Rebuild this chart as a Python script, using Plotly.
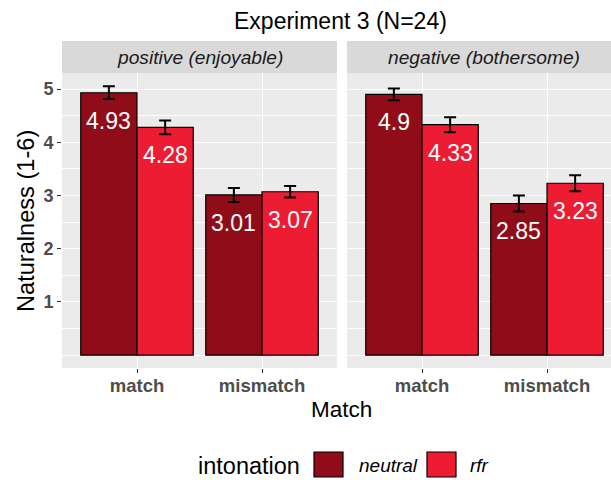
import plotly.graph_objects as go

# ---- data ----
categories = ["match", "mismatch"]
facets = ["positive (enjoyable)", "negative (bothersome)"]
series_names = ["neutral", "rfr"]
neutral_pos = [4.93, 3.01]
rfr_pos = [4.28, 3.07]
neutral_neg = [4.9, 2.85]
rfr_neg = [4.33, 3.23]
neutral_pos_se = [0.12, 0.13]
rfr_pos_se = [0.13, 0.11]
neutral_neg_se = [0.11, 0.15]
rfr_neg_se = [0.14, 0.15]
y_ticks = [1, 2, 3, 4, 5]

colors = {"neutral": "#900C19", "rfr": "#EE1C33"}
W, H = 611, 480
FONT = "Liberation Sans, Arial, sans-serif"

def px_x(p):
    return p / W

def px_y(p):
    return (H - p) / H

cat_pos = [1, 2]

fig = go.Figure()
panels = [
    ("x", "y", neutral_pos, rfr_pos, neutral_pos_se, rfr_pos_se),
    ("x2", "y2", neutral_neg, rfr_neg, neutral_neg_se, rfr_neg_se),
]
annotations = []
for xa, ya, nv, rv, nse, rse in panels:
    for name, vals, se, off in [("neutral", nv, nse, -0.225), ("rfr", rv, rse, 0.225)]:
        fig.add_trace(go.Bar(
            x=cat_pos, y=vals, name=name, xaxis=xa, yaxis=ya,
            marker=dict(color=colors[name], line=dict(color="black", width=1.2)),
            error_y=dict(type="data", array=se, color="black", thickness=2, width=6),
            showlegend=False, hoverinfo="skip",
        ))
        for c, v in zip(cat_pos, vals):
            annotations.append(dict(
                x=c + off, y=v, xref=xa, yref=ya, text=str(v), showarrow=False,
                yanchor="middle", xanchor="center", yshift=-28,
                font=dict(family=FONT, size=23, color="white"),
            ))

panel_top, panel_bot = 73.3, 368
ydom = [px_y(panel_bot), px_y(panel_top)]
yrange = [-0.24, 5.295]
axis_common = dict(
    showgrid=True, gridcolor="white", gridwidth=1.1, zeroline=False,
    showline=False,
)
fig.update_layout(
    width=W, height=H, margin=dict(l=0, r=0, t=0, b=0),
    paper_bgcolor="white", plot_bgcolor="#EBEBEB",
    barmode="group", bargap=0.1, bargroupgap=0,
    xaxis=dict(domain=[px_x(62), px_x(337)], range=[0.4, 2.6], tickvals=cat_pos,
               ticktext=categories, anchor="y", ticks="outside", ticklen=4,
               tickcolor="#333333", tickwidth=1, ticklabelstandoff=-3,
               tickfont=dict(family=FONT, size=18.5, color="#4D4D4D", weight="bold"),
               **axis_common),
    xaxis2=dict(domain=[px_x(347), 1], range=[0.4, 0.4 + 264 / 125], tickvals=cat_pos,
                ticktext=categories, anchor="y2", ticks="outside", ticklen=4,
                tickcolor="#333333", tickwidth=1, ticklabelstandoff=-3,
                tickfont=dict(family=FONT, size=18.5, color="#4D4D4D", weight="bold"),
                **axis_common),
    yaxis=dict(domain=ydom, range=yrange, tickvals=y_ticks, anchor="x",
               ticks="outside", ticklen=4, tickcolor="#333333", tickwidth=1,
               tickfont=dict(family=FONT, size=18, color="#4D4D4D", weight="bold"),
               minor=dict(dtick=0.5, tick0=0, showgrid=True, gridcolor="white", gridwidth=0.5),
               **axis_common),
    yaxis2=dict(domain=ydom, range=yrange, tickvals=y_ticks, anchor="x2",
                showticklabels=False, ticks="",
                minor=dict(dtick=0.5, tick0=0, showgrid=True, gridcolor="white", gridwidth=0.5),
                **axis_common),
)

shapes = []
# strips
for x0, x1 in [(62, 337), (347, 621)]:
    shapes.append(dict(type="rect", xref="paper", yref="paper",
                       x0=px_x(x0), x1=px_x(x1), y0=px_y(73.3), y1=px_y(41),
                       fillcolor="#D9D9D9", line=dict(width=0), layer="below"))
for i, (cx, f) in enumerate([(199.5, facets[0]), (484, facets[1])]):
    annotations.append(dict(x=px_x(cx), y=px_y(57), xref="paper", yref="paper",
                            text=f"<i>{f}</i>", showarrow=False, xanchor="center",
                            yanchor="middle",
                            font=dict(family=FONT, size=19.2, color="#1A1A1A")))

# titles
annotations.append(dict(x=px_x(340), y=px_y(21), xref="paper", yref="paper",
                        text="Experiment 3 (N=24)", showarrow=False,
                        xanchor="center", yanchor="middle",
                        font=dict(family=FONT, size=23, color="black")))
annotations.append(dict(x=px_x(341), y=px_y(409), xref="paper", yref="paper",
                        text="Match", showarrow=False, xanchor="center", yanchor="middle",
                        font=dict(family=FONT, size=22.5, color="black")))
annotations.append(dict(x=px_x(26), y=px_y(221), xref="paper", yref="paper",
                        text="Naturalness (1-6)", showarrow=False, textangle=-90,
                        xanchor="center", yanchor="middle",
                        font=dict(family=FONT, size=23.6, color="black")))

# legend (manual)
annotations.append(dict(x=px_x(196), y=px_y(466), xref="paper", yref="paper",
                        text="intonation", showarrow=False, xanchor="left", yanchor="middle",
                        font=dict(family=FONT, size=23.5, color="black")))
for name, x0, tx in [("neutral", 314, 357), ("rfr", 427, 468)]:
    shapes.append(dict(type="rect", xref="paper", yref="paper",
                       x0=px_x(x0), x1=px_x(x0 + 29), y0=px_y(477), y1=px_y(452),
                       fillcolor=colors[name], line=dict(color="black", width=1.2)))
    annotations.append(dict(x=px_x(tx), y=px_y(465), xref="paper", yref="paper",
                            text=f"<i>{name}</i>", showarrow=False, xanchor="left",
                            yanchor="middle",
                            font=dict(family=FONT, size=19, color="black")))

fig.update_layout(shapes=shapes, annotations=annotations)
fig.write_html("out.html", config={"displayModeBar": False},
               post_script="document.body.style.margin='0';document.body.style.padding='0';document.body.style.overflow='hidden';")
